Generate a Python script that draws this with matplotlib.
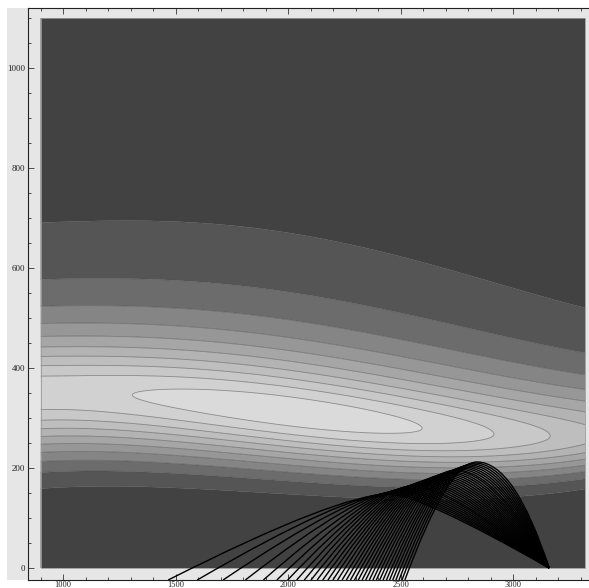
import numpy as np
import matplotlib
matplotlib.use("Agg")
import matplotlib.pyplot as plt
from matplotlib.path import Path
from matplotlib.patches import PathPatch, Rectangle
from matplotlib.ticker import MultipleLocator

### field region ###
field_x = [900, 3320]
field_y = [0, 1100]

ridge_x = [900, 1311, 2000, 2578, 2942, 3300]
ridge_y = [354, 340, 320, 275, 267, 265]
height_x = [900, 1311, 1950, 2578, 2942, 3142, 3300]
height_lvl = [9.7, 10.0, 10.7, 10.0, 9.0, 8.0, 7.45]
width_x = [900, 2000, 3300]
width_up = [115, 115, 102]
width_dn = [128, 107, 76]

levels = [-1, 1, 2, 3, 4, 5, 6, 7, 8, 9, 10, 12]
band_grays = ['#424242', '#555555', '#6c6c6c', '#858585', '#979797', '#a6a6a6',
              '#b3b3b3', '#bebebe', '#c8c8c8', '#d1d1d1', '#dadada']

### ray family, all meeting at one point on the axis ###
ray_end = (3160, 0)
ray_start_x = [1467, 1596, 1711, 1810, 1890, 1950, 1998, 2038, 2072, 2102, 2129, 2154,
               2177, 2199, 2220, 2240, 2259, 2277, 2295, 2312, 2329, 2345, 2361, 2377,
               2392, 2407, 2422, 2437, 2451, 2465, 2479, 2493, 2506, 2519]
ray_peak_x = [2450, 2462, 2474, 2485, 2497, 2509, 2521, 2533, 2544, 2556, 2568, 2580,
              2592, 2603, 2615, 2627, 2639, 2651, 2662, 2674, 2686, 2698, 2710, 2721,
              2733, 2745, 2757, 2769, 2780, 2792, 2804, 2816, 2828, 2840]
ray_peak_y = [148, 150, 152, 154, 156, 158, 160, 162, 164, 165, 167, 169, 171, 173,
              175, 177, 179, 181, 183, 185, 187, 189, 191, 193, 195, 196, 198, 200,
              202, 204, 206, 208, 210, 212]

xlim = (844, 3364)
ylim = (-24, 1120)

### build the field ###
def smooth(xs, ys, deg):
    c = np.polyfit((np.array(xs) - 2000) / 1000, ys, deg)
    return lambda x: np.polyval(c, (x - 2000) / 1000)

yc_f = smooth(ridge_x, ridge_y, 3)
amp_f = smooth(height_x, height_lvl, 4)
wu_f = smooth(width_x, width_up, 2)
wd_f = smooth(width_x, width_dn, 2)

gx = np.linspace(field_x[0], field_x[1], 600)
gy = np.linspace(field_y[0], field_y[1], 500)
X, Y = np.meshgrid(gx, gy)
d = Y - yc_f(X)
g = np.where(d > 0, 1 / (1 + (d / wu_f(X)) ** 2), np.exp(-(d / wd_f(X)) ** 2))
Z = amp_f(X) * g

### figure ###
fig = plt.figure(figsize=(5.89, 5.88), dpi=100)
fig.patches.append(Rectangle((7 / 589, 8 / 588), 1, 572 / 588, transform=fig.transFigure,
                             facecolor='#e6e6e6', edgecolor='none', zorder=-10))
ax = fig.add_axes([28 / 589, 8 / 588, 567 / 589, 572 / 588])
ax.set_facecolor('#e6e6e6')

ax.contourf(X, Y, Z, levels=levels, colors=band_grays, antialiased=True, zorder=1)
ax.contour(X, Y, Z, levels=levels[1:-1], colors='#4a4a4a', linewidths=0.6, alpha=0.55,
           zorder=2)
ax.add_patch(Rectangle((field_x[0], field_y[0]), field_x[1] - field_x[0],
                       field_y[1] - field_y[0], facecolor='none', edgecolor='#9a9a9a',
                       linewidth=0.6, zorder=2.5))

## rays: rise to a crest, then fall to the common end point
n = len(ray_start_x)
for i in range(n):
    s = i / (n - 1)
    f1 = 0.77 - 0.17 * s
    f2 = 0.185 + 0.335 * s
    sx, sy = ray_start_x[i], ylim[0]
    px, py = ray_peak_x[i], ray_peak_y[i]
    ex, ey = ray_end
    verts = [(sx, sy), (sx + f1 * (px - sx), py), (px, py),
             (px + f2 * (ex - px), py), (ex, ey)]
    codes = [Path.MOVETO, Path.CURVE3, Path.CURVE3, Path.CURVE3, Path.CURVE3]
    ax.add_patch(PathPatch(Path(verts, codes), facecolor='none', edgecolor='black',
                           linewidth=1.0, zorder=3))

ax.set_xlim(*xlim)
ax.set_ylim(*ylim)
ax.xaxis.set_major_locator(MultipleLocator(500))
ax.xaxis.set_minor_locator(MultipleLocator(100))
ax.yaxis.set_major_locator(MultipleLocator(200))
ax.yaxis.set_minor_locator(MultipleLocator(50))
ax.tick_params(which='both', direction='in', top=True, right=False, width=0.6,
               color='#333333', labelsize=6.5, labelcolor='#222222', pad=2)
ax.tick_params(axis='x', labelsize=6, pad=0.6)
ax.tick_params(which='major', length=4)
ax.tick_params(which='minor', length=2.5)
for lab in ax.get_xticklabels() + ax.get_yticklabels():
    lab.set_family('Liberation Serif')
for side in ['left', 'top', 'bottom']:
    ax.spines[side].set_linewidth(0.8)
    ax.spines[side].set_color('#222222')
ax.spines['right'].set_visible(False)

plt.savefig("out.png", dpi=100)
